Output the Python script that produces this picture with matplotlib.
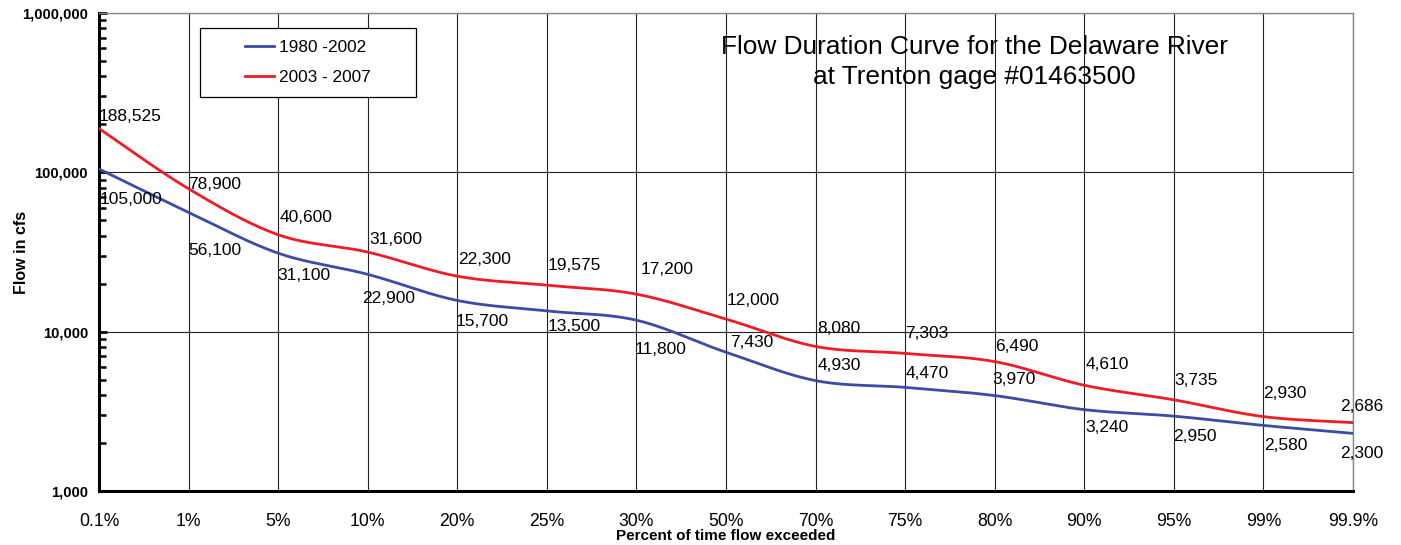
import numpy as np
import matplotlib
matplotlib.use('Agg')
import matplotlib.pyplot as plt
from matplotlib.ticker import FuncFormatter, LogLocator, NullFormatter
from matplotlib.patches import Rectangle

plt.rcParams['font.family'] = ['Liberation Sans', 'DejaVu Sans']

percent_labels = ['0.1%', '1%', '5%', '10%', '20%', '25%', '30%', '50%',
                  '70%', '75%', '80%', '90%', '95%', '99%', '99.9%']
flow_1980_2002 = [105000, 56100, 31100, 22900, 15700, 13500, 11800, 7430,
                  4930, 4470, 3970, 3240, 2950, 2580, 2300]
flow_2003_2007 = [188525, 78900, 40600, 31600, 22300, 19575, 17200, 12000,
                  8080, 7303, 6490, 4610, 3735, 2930, 2686]

# label offsets in pixels (dx, dy)
blue_offsets = [(1, -31), (0, -38), (-1, -22), (-6, -24), (-2, -21), (1, -16),
                (-2, -29), (4, 10), (2, 15), (0, 14), (-2, 16), (1, -18),
                (-1, -20), (1, -20), (-13, -20)]
red_offsets = [(0, 12), (0, 4), (1, 17), (2, 13), (1, 17), (1, 20), (4, 25),
               (1, 19), (2, 18), (0, 20), (0, 15), (1, 21), (1, 19), (0, 23),
               (-13, 16)]

BLUE = '#3a4ca6'
RED = '#ee1c25'


def smooth_curve(values, steps=30):
    # excel style smoothed line: catmull-rom through points in log space
    x = np.arange(len(values), dtype=float)
    y = np.log10(np.array(values, dtype=float))
    pts = np.column_stack([x, y])
    out = []
    n = len(pts)
    for i in range(n - 1):
        p0 = pts[max(i - 1, 0)]
        p1 = pts[i]
        p2 = pts[i + 1]
        p3 = pts[min(i + 2, n - 1)]
        b1 = p1 + (p2 - p0) / 6.0
        b2 = p2 - (p3 - p1) / 6.0
        t = np.linspace(0, 1, steps)[:, None]
        seg = ((1 - t) ** 3 * p1 + 3 * (1 - t) ** 2 * t * b1 +
               3 * (1 - t) * t ** 2 * b2 + t ** 3 * p2)
        out.append(seg if i == 0 else seg[1:])
    out = np.vstack(out)
    return out[:, 0], 10 ** out[:, 1]


def add_labels(ax, values, offsets):
    for i, (v, (dx, dy)) in enumerate(zip(values, offsets)):
        ax.annotate(f'{v:,}', (i, v), xytext=(dx * 0.72, dy * 0.72),
                    textcoords='offset points', ha='left', va='center',
                    fontsize=12.5, color='black', zorder=5)


fig = plt.figure(figsize=(14.01, 5.45), dpi=100)
ax = fig.add_axes([99 / 1401, 54 / 545, 1254 / 1401, 478 / 545])

xb, yb = smooth_curve(flow_1980_2002)
xr, yr = smooth_curve(flow_2003_2007)
ax.plot(xb, yb, color=BLUE, lw=2.0, label='1980 -2002', zorder=3)
ax.plot(xr, yr, color=RED, lw=2.0, label='2003 - 2007', zorder=3)

add_labels(ax, flow_1980_2002, blue_offsets)
add_labels(ax, flow_2003_2007, red_offsets)

ax.set_yscale('log')
ax.set_ylim(1000, 1000000)
ax.set_xlim(0, len(percent_labels) - 1)
ax.set_xticks(range(len(percent_labels)))
ax.set_xticklabels(percent_labels, fontsize=12.7)
ax.tick_params(axis='x', length=0, pad=16)

ax.yaxis.set_major_locator(LogLocator(base=10, numticks=10))
ax.yaxis.set_major_formatter(FuncFormatter(lambda v, p: f'{v:,.0f}'))
ax.yaxis.set_minor_locator(LogLocator(base=10, subs=np.arange(2, 10), numticks=10))
ax.yaxis.set_minor_formatter(NullFormatter())
ax.tick_params(axis='y', which='major', direction='in', length=6, width=2,
               labelsize=10.6, pad=8)
ax.tick_params(axis='y', which='minor', direction='in', length=5, width=1.8)
for lab in ax.get_yticklabels():
    lab.set_fontweight('bold')

ax.grid(True, which='major', axis='both', color='#222222', lw=0.8)
ax.set_axisbelow(True)

for side in ['left', 'bottom']:
    ax.spines[side].set_linewidth(2.2)
    ax.spines[side].set_color('black')
for side in ['top', 'right']:
    ax.spines[side].set_linewidth(1.0)
    ax.spines[side].set_color('#888888')

ax.set_ylabel('Flow in cfs', fontsize=11.5, fontweight='bold')
ax.yaxis.set_label_coords(-0.056, 0.5)
ax.set_xlabel('Percent of time flow exceeded', fontsize=11, fontweight='bold',
              labelpad=-1)

ax.text(0.698, 0.8975, 'Flow Duration Curve for the Delaware River\n'
        'at Trenton gage #01463500', transform=ax.transAxes, ha='center',
        va='center', fontsize=18.9, linespacing=1.28, zorder=6)

box = Rectangle((101 / 1254, 394 / 478), 216 / 1254, 69 / 478,
                transform=ax.transAxes, facecolor='white', edgecolor='black',
                lw=0.9, zorder=6)
ax.add_patch(box)
leg = ax.legend(loc='center', bbox_to_anchor=(0.1667, 0.8964), frameon=False,
                fontsize=12.4, handlelength=1.7, handletextpad=0.3,
                labelspacing=0.9, borderpad=0)
leg.set_zorder(7)

fig.savefig('out.png', dpi=100)
